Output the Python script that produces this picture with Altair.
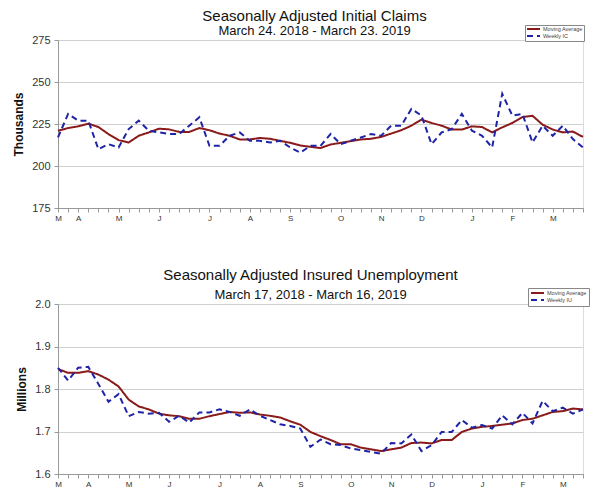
import json
import pandas as pd
import altair as alt

# ---------------- data ----------------
weeks = list(range(53))

ic_weekly = [217, 231, 227, 227, 210, 213, 211, 222, 227, 221,
             220, 219, 219, 224, 229, 212, 212, 218, 220, 215,
             215, 214, 215, 211, 208, 212, 212, 219, 213, 215,
             217, 219, 218, 224, 224, 234, 230, 213, 220, 222,
             231, 221, 218, 211, 243, 230, 231, 214, 224, 218,
             224, 216, 211]
ic_ma = [221.0, 222.6, 223.6, 225.2, 223.2, 219.0, 215.4, 214.0, 218.0, 220.0,
         222.2, 221.8, 220.3, 220.3, 222.6, 221.3, 219.3, 218.0, 215.8, 215.8,
         216.7, 216.2, 215.0, 213.8, 212.2, 211.4, 210.7, 212.8, 213.8, 214.8,
         215.8, 216.2, 217.3, 219.3, 221.3, 224.0, 227.6, 225.6, 224.0, 221.7,
         221.7, 223.6, 223.2, 220.0, 223.0, 225.6, 229.1, 229.9, 224.6, 221.7,
         220.0, 220.5, 217.3]

iu_weekly = [1.850, 1.820, 1.850, 1.852, 1.812, 1.770, 1.788, 1.736, 1.746, 1.742,
             1.744, 1.723, 1.737, 1.721, 1.745, 1.745, 1.752, 1.746, 1.737, 1.752,
             1.737, 1.727, 1.717, 1.713, 1.707, 1.664, 1.681, 1.670, 1.668, 1.660,
             1.656, 1.652, 1.648, 1.673, 1.672, 1.693, 1.654, 1.668, 1.699, 1.699,
             1.727, 1.709, 1.715, 1.707, 1.738, 1.717, 1.744, 1.719, 1.772, 1.748,
             1.756, 1.742, 1.752]
iu_ma = [1.847, 1.838, 1.838, 1.842, 1.834, 1.822, 1.806, 1.775, 1.759, 1.752,
         1.742, 1.738, 1.736, 1.730, 1.730, 1.736, 1.741, 1.746, 1.744, 1.745,
         1.740, 1.737, 1.733, 1.724, 1.716, 1.699, 1.689, 1.680, 1.670, 1.670,
         1.662, 1.658, 1.654, 1.658, 1.662, 1.673, 1.674, 1.672, 1.680, 1.680,
         1.699, 1.707, 1.711, 1.713, 1.716, 1.719, 1.727, 1.730, 1.738, 1.746,
         1.748, 1.754, 1.752]

month_letters = ["M", "A", "M", "J", "J", "A", "S", "O", "N", "D", "J", "F", "M"]
ic_label_weeks = [0, 2, 6, 10, 15, 19, 23, 28, 32, 36, 41, 45, 49]
iu_label_weeks = [0, 3, 7, 11, 16, 20, 24, 29, 33, 37, 42, 46, 50]

ic_ticks = [175, 200, 225, 250, 275]
iu_ticks = [1.6, 1.7, 1.8, 1.9, 2.0]

FONT = "Liberation Sans"
MA_COLOR = "#8b1a1a"
WK_COLOR = "#1f24a6"


def label_expr(label_weeks):
    labels = [""] * len(weeks)
    for w, m in zip(label_weeks, month_letters):
        labels[w] = m
    return json.dumps(labels) + "[datum.value]"


def panel(weekly, ma, weekly_name, label_weeks, yticks, yfmt, ytitle,
          title, subtitle, t_offset, t_subpad, t_dx, leg_x, leg_y, leg_pad, height):
    df = pd.DataFrame({
        "week": weeks + weeks,
        "value": ma + weekly,
        "series": ["Moving Average"] * len(weeks) + [weekly_name] * len(weeks),
    })
    domain = ["Moving Average", weekly_name]
    legend = alt.Legend(
        title=None, orient="none", legendX=leg_x, legendY=leg_y,
        symbolType="stroke", symbolSize=169, symbolStrokeWidth=2,
        clipHeight=6,
        labelFont=FONT, labelFontSize=5.5, labelColor="#444",
        labelOffset=2, rowPadding=0, padding=leg_pad,
        strokeColor="#888", fillColor="white",
    )
    base = alt.Chart(df).mark_line(strokeWidth=2).encode(
        x=alt.X("week:Q",
                scale=alt.Scale(domain=[0, 52], nice=False, zero=False),
                axis=alt.Axis(values=weeks, labelExpr=label_expr(label_weeks),
                              title=None, grid=False, tickSize=4,
                              labelFontSize=8, labelPadding=2,
                              labelFlush=False, labelOverlap=False,
                              labelFont=FONT, labelColor="#333",
                              tickColor="#999", domainColor="#999")),
        y=alt.Y("value:Q",
                scale=alt.Scale(domain=[yticks[0], yticks[-1]], nice=False, zero=False),
                axis=alt.Axis(values=yticks, format=yfmt, title=ytitle,
                              titleFont=FONT, titleFontSize=12, titleFontWeight="bold",
                              titleColor="#111", titlePadding=6,
                              labelFont=FONT, labelFontSize=11, labelColor="#333",
                              labelPadding=4, tickSize=4, tickColor="#999",
                              domainColor="#999", gridColor="#d0d0d0")),
        color=alt.Color("series:N",
                        scale=alt.Scale(domain=domain, range=[MA_COLOR, WK_COLOR]),
                        legend=legend),
        strokeDash=alt.StrokeDash("series:N",
                                  scale=alt.Scale(domain=domain, range=[[1, 0], [6, 4]]),
                                  legend=legend),
    )
    return base.properties(
        width=525, height=height,
        title=alt.TitleParams(
            text=title, subtitle=subtitle, font=FONT, subtitleFont=FONT,
            fontSize=15, subtitleFontSize=13, fontWeight="normal",
            color="#111", subtitleColor="#111", anchor="middle", frame="group",
            offset=t_offset, subtitlePadding=t_subpad, dx=t_dx,
        ),
    )


top = panel(ic_weekly, ic_ma, "Weekly IC", ic_label_weeks, ic_ticks, "d", "Thousands",
            "Seasonally Adjusted Initial Claims", "March 24. 2018 - March 23. 2019",
            -13, 1, -6, 467, -15, 1, 168)
bottom = panel(iu_weekly, iu_ma, "Weekly IU", iu_label_weeks, iu_ticks, ".1f", "Millions",
               "Seasonally Adjusted Insured Unemployment", "March 17, 2018 - March 16, 2019",
               -14, 6, -10, 470, -16, 2, 170)

chart = alt.vconcat(top, bottom, spacing=44).resolve_scale(
    color="independent", strokeDash="independent", y="independent"
).properties(
    padding={"left": 4, "top": 0, "right": 0, "bottom": 0}
).configure_view(stroke="#c0c0c0").configure(background="white")

chart.save("out.html", embed_options={"renderer": "svg", "actions": False})
